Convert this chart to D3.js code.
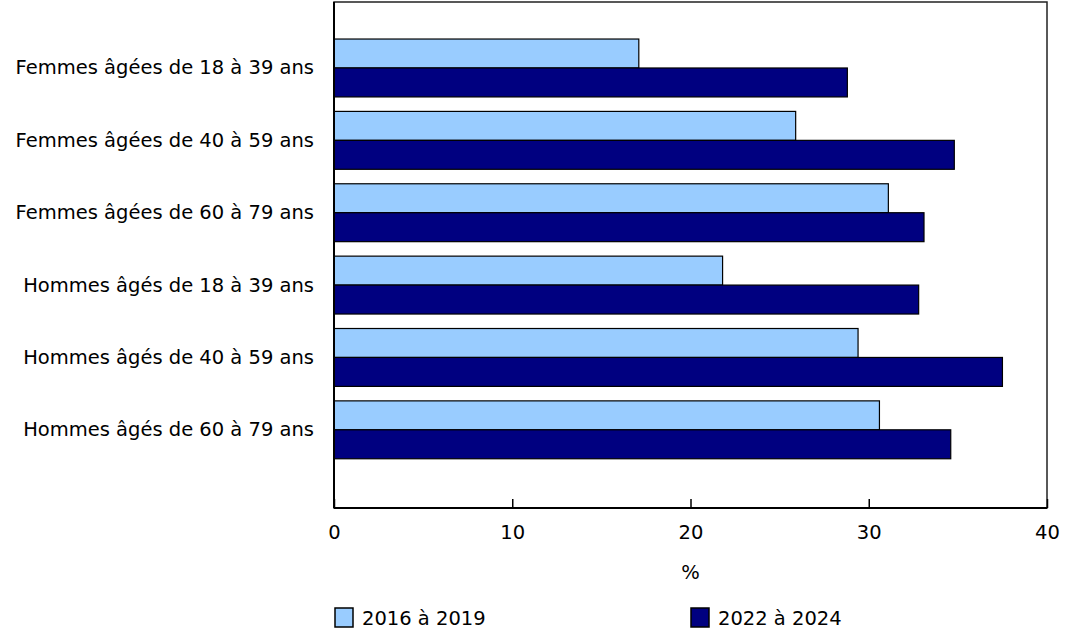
<!DOCTYPE html>
<html>
<head>
<meta charset="utf-8">
<script src="https://cdn.jsdelivr.net/npm/d3@7"></script>
<style>
  body { margin: 0; background: #fff; }
  svg text { font-family: "DejaVu Sans", Verdana, sans-serif; fill: #000; }
</style>
</head>
<body>
<div id="main"></div>
<script>
const categories = [
    'Femmes âgées de 18 à 39 ans',
    'Femmes âgées de 40 à 59 ans',
    'Femmes âgées de 60 à 79 ans',
    'Hommes âgés de 18 à 39 ans',
    'Hommes âgés de 40 à 59 ans',
    'Hommes âgés de 60 à 79 ans'
]
const series = ['2016 à 2019', '2022 à 2024']
const values2016 = [17.1, 25.9, 31.1, 21.8, 29.4, 30.6]
const values2022 = [28.8, 34.8, 33.1, 32.8, 37.5, 34.6]
const xTicks = [0, 10, 20, 30, 40]

const w = 1082, h = 635
const plotLeft = 334, plotRight = 1047, plotTop = 2, plotBottom = 508
const colors = ['#99ccff', '#000080']
const fontSize = '19.5px'

const svg = d3.select('#main')
            .append('svg')
            .attr('width', w)
            .attr('height', h)

const xScale = d3.scaleLinear()
                .domain([0, 40])
                .range([plotLeft, plotRight])

const yScale = d3.scaleBand()
                .domain(categories)
                .range([plotTop + 29.8, plotBottom - 42])
                .paddingInner(0.2)
                .paddingOuter(0.1)

const sub = d3.scaleBand()
            .domain(series)
            .range([0, yScale.bandwidth()])

// frame (top and right)
svg.append('rect')
    .attr('x', plotLeft)
    .attr('y', plotTop)
    .attr('width', plotRight - plotLeft)
    .attr('height', plotBottom - plotTop)
    .attr('fill', 'none')
    .attr('stroke', '#222')
    .attr('stroke-width', 1.5)

const rows = categories.map((c, i) => ({cat: c, vals: [values2016[i], values2022[i]]}))

const groups = svg.selectAll('g.grp')
                .data(rows)
                .enter()
                .append('g')
                .attr('class', 'grp')
                .attr('transform', d => 'translate(0,' + yScale(d.cat) + ')')

groups.selectAll('rect')
    .data(d => d.vals.map((v, j) => ({s: series[j], v: v, j: j})))
    .enter()
    .append('rect')
    .attr('x', xScale(0))
    .attr('y', d => sub(d.s))
    .attr('width', d => xScale(d.v) - xScale(0))
    .attr('height', sub.bandwidth())
    .attr('fill', d => colors[d.j])
    .attr('stroke', '#000')
    .attr('stroke-width', 1.2)

// category labels
svg.append('g')
    .selectAll('text')
    .data(categories)
    .enter()
    .append('text')
    .text(d => d)
    .attr('x', plotLeft - 20)
    .attr('y', d => yScale(d) + yScale.bandwidth() / 2 + 1)
    .attr('text-anchor', 'end')
    .attr('dominant-baseline', 'middle')
    .style('font-size', fontSize)

// x axis, ticks pointing inward
const xAxis = d3.axisBottom(xScale)
                .tickValues(xTicks)
                .tickSize(0)
                .tickPadding(17)

const gx = svg.append('g')
            .attr('transform', 'translate(0,' + plotBottom + ')')
            .call(xAxis)
gx.select('.domain').remove()
gx.selectAll('text')
    .style('font-size', fontSize)
    .style('font-family', '"DejaVu Sans", Verdana, sans-serif')
gx.selectAll('.tick')
    .append('line')
    .attr('y1', 0)
    .attr('y2', -9)
    .attr('stroke', '#000')
    .attr('stroke-width', 1.5)

// left + bottom axis lines
svg.append('line')
    .attr('x1', plotLeft).attr('x2', plotLeft)
    .attr('y1', plotTop).attr('y2', plotBottom)
    .attr('stroke', '#000')
    .attr('stroke-width', 2)
svg.append('line')
    .attr('x1', plotLeft).attr('x2', plotRight)
    .attr('y1', plotBottom).attr('y2', plotBottom)
    .attr('stroke', '#000')
    .attr('stroke-width', 2)

svg.append('text')
    .text('%')
    .attr('x', (plotLeft + plotRight) / 2)
    .attr('y', 579)
    .attr('text-anchor', 'middle')
    .style('font-size', fontSize)

// legend
const legendX = [334, 690]
const legend = svg.append('g')
legend.selectAll('rect')
    .data(series)
    .enter()
    .append('rect')
    .attr('x', (d, i) => legendX[i] + 1)
    .attr('y', 608)
    .attr('width', 18)
    .attr('height', 19)
    .attr('fill', (d, i) => colors[i])
    .attr('stroke', '#000')
    .attr('stroke-width', 1.5)
legend.selectAll('text')
    .data(series)
    .enter()
    .append('text')
    .text(d => d)
    .attr('x', (d, i) => legendX[i] + 28)
    .attr('y', 625)
    .style('font-size', fontSize)
</script>
</body>
</html>
